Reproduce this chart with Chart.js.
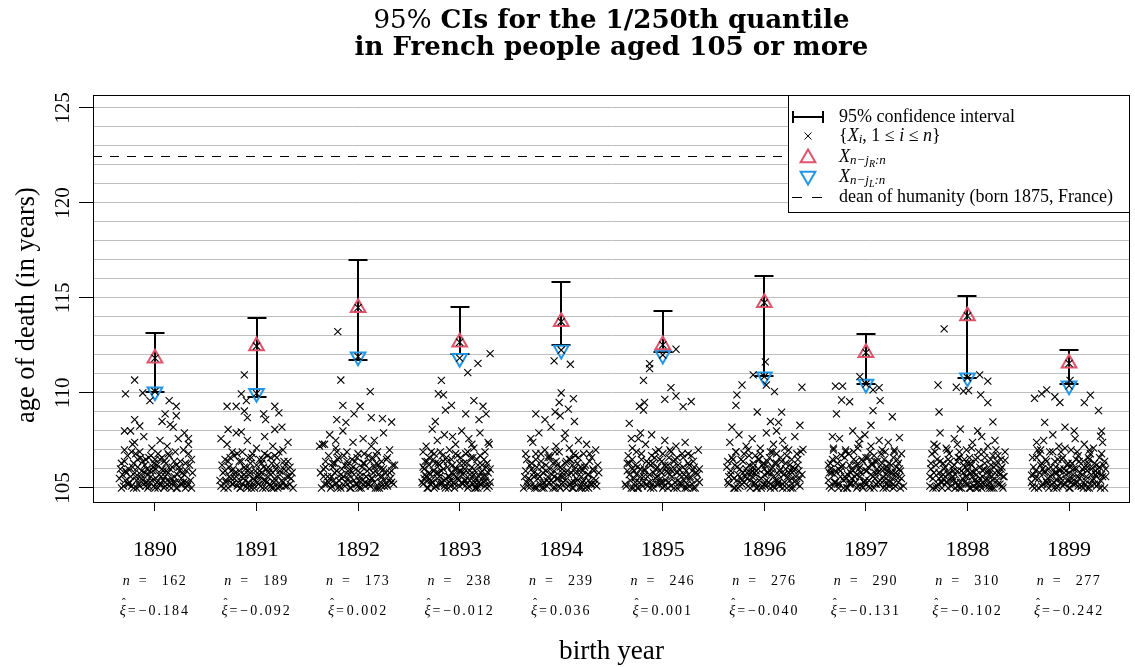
<!DOCTYPE html>
<html>
<head>
<meta charset="utf-8">
<title>95% CIs for the 1/250th quantile</title>
<script src="https://cdn.jsdelivr.net/npm/chart.js@4.4.0/dist/chart.umd.min.js"></script>
<style>
  html, body { margin: 0; padding: 0; background: #fff; }
  #wrap { width: 1135px; height: 667px; }
</style>
</head>
<body>
<div id="wrap"><canvas id="ciChart" width="1135" height="667"></canvas></div>
<script>
// ---- data ----
const years = [1890, 1891, 1892, 1893, 1894, 1895, 1896, 1897, 1898, 1899];
const sampleSizes = [162, 189, 173, 238, 239, 246, 276, 290, 310, 277];
const xiHat = [-0.184, -0.092, 0.002, -0.012, 0.036, 0.001, -0.040, -0.131, -0.102, -0.242];

const ciHigh = [113.14, 113.96, 117.0, 114.54, 115.86, 114.32, 116.18, 113.09, 115.12, 112.26];
const ciLow = [110.04, 109.81, 111.74, 112.05, 112.53, 112.18, 110.91, 110.47, 110.77, 110.47];
const upperStat = [111.83, 112.47, 114.49, 112.67, 113.75, 112.53, 114.75, 112.12, 114.05, 111.56];
const lowerStat = [110.07, 109.98, 111.91, 111.83, 112.26, 112.0, 110.86, 110.47, 110.8, 110.38];

const deanAge = 122.45;
const ageTickLabels = [105, 110, 115, 120, 125];

// jittered ages at death, [offset from birth year, age]
const pts1890 = [[-0.35,105.5],[-0.33,106.3],[-0.31,105.1],[-0.3,107.0],[-0.28,105.8],[-0.27,106.7],[-0.25,105.3],[-0.24,108.0],[-0.22,106.1],[-0.21,105.0],[-0.2,107.4],[-0.19,105.6],[-0.17,106.5],[-0.16,105.2],[-0.15,106.9],[-0.13,105.9],[-0.12,105.4],[-0.11,107.7],[-0.1,106.2],[-0.09,105.1],[-0.07,105.7],[-0.06,106.6],[-0.05,105.3],[-0.03,107.1],[-0.02,105.9],[-0.01,106.3],[0.0,105.0],[0.01,105.5],[0.03,106.8],[0.04,105.2],[0.05,107.5],[0.07,106.0],[0.08,105.4],[0.09,106.4],[0.1,105.1],[0.12,107.2],[0.13,105.8],[0.14,106.7],[0.15,105.3],[0.17,106.1],[0.18,108.2],[0.19,105.6],[0.2,106.9],[0.22,105.0],[0.23,107.6],[0.24,105.9],[0.25,106.4],[0.27,105.2],[0.28,107.0],[0.29,105.7],[0.3,106.3],[0.32,105.1],[0.33,106.8],[0.35,105.4],[0.37,105.8],[-0.34,106.0],[-0.29,105.4],[-0.23,106.9],[-0.18,105.0],[-0.14,105.7],[-0.08,106.0],[-0.04,105.6],[0.02,106.2],[0.06,105.6],[0.11,105.9],[0.16,105.0],[0.21,106.2],[0.26,105.5],[0.31,105.3],[0.36,106.5],[-0.26,105.2],[-0.12,106.4],[0.0,106.5],[0.1,105.6],[0.2,105.3],
  [-0.2,110.68],[-0.29,109.95],[-0.12,110.0],[-0.05,109.6],[0.14,109.6],[0.21,109.3],[0.1,108.9],[0.21,108.8],[-0.2,108.6],[-0.15,108.26],[0.07,108.5],[0.15,108.35],[-0.3,108.0],[0.29,107.9],[0.33,107.6],[0.33,107.3],[-0.22,107.3]];
const dense1890 = [[-0.33,105.0],[-0.32,105.7],[-0.3,106.4],[-0.29,105.9],[-0.27,105.2],[-0.26,106.0],[-0.24,105.6],[-0.23,105.1],[-0.21,106.3],[-0.2,105.8],[-0.18,105.4],[-0.17,106.1],[-0.15,105.1],[-0.14,106.6],[-0.13,105.5],[-0.11,105.2],[-0.1,105.8],[-0.09,106.5],[-0.08,105.3],[-0.06,105.1],[-0.05,105.9],[-0.03,105.4],[-0.02,106.1],[-0.01,105.1],[0.01,106.0],[0.02,105.3],[0.04,105.7],[0.05,106.5],[0.06,105.2],[0.08,105.9],[0.09,105.0],[0.11,106.3],[0.12,105.4],[0.14,105.1],[0.15,106.0],[0.16,105.5],[0.18,105.3],[0.19,106.4],[0.21,105.0],[0.22,105.7],[0.24,106.1],[0.25,105.2],[0.27,105.8],[0.28,105.3],[0.3,105.0],[0.31,105.9],[0.33,105.2],[0.34,106.2],[0.36,105.0],[0.03,105.0],[-0.07,105.0],[0.13,106.8],[-0.19,106.8],[0.07,106.6],[-0.04,106.7]];

const pts1891 = [[-0.36,105.4],[-0.34,106.2],[-0.32,105.0],[-0.31,105.9],[-0.29,107.3],[-0.27,105.6],[-0.26,106.6],[-0.24,105.2],[-0.23,106.0],[-0.21,105.8],[-0.2,107.9],[-0.18,105.3],[-0.17,106.4],[-0.16,105.0],[-0.14,106.9],[-0.13,105.5],[-0.12,106.1],[-0.1,105.1],[-0.09,107.5],[-0.08,105.7],[-0.06,106.3],[-0.05,105.0],[-0.04,106.8],[-0.02,105.4],[-0.01,105.9],[0.0,107.1],[0.02,105.2],[0.03,106.5],[0.04,105.6],[0.06,105.0],[0.07,106.1],[0.08,107.7],[0.1,105.3],[0.11,106.7],[0.12,105.8],[0.14,105.1],[0.15,106.3],[0.16,107.2],[0.18,105.5],[0.19,106.0],[0.21,105.0],[0.22,106.9],[0.23,105.7],[0.25,108.2],[0.26,105.3],[0.27,106.4],[0.29,105.9],[0.3,105.1],[0.31,107.4],[0.33,106.1],[0.34,105.5],[0.36,105.0],[-0.35,107.6],[-0.3,105.3],[-0.25,105.9],[-0.19,106.8],[-0.15,105.6],[-0.11,105.4],[-0.07,106.0],[-0.03,105.2],[0.01,105.6],[0.05,106.3],[0.09,105.4],[0.13,106.0],[0.17,105.3],[0.2,106.6],[0.24,105.1],[0.28,106.2],[0.32,105.6],[-0.22,105.5],[-0.08,106.6],[0.05,105.8],[0.15,105.0],[0.26,107.0],[-0.28,106.4],
  [-0.12,110.95],[-0.15,109.95],[-0.1,109.6],[-0.29,109.3],[-0.2,109.3],[-0.12,109.05],[-0.09,108.7],[0.07,108.9],[0.18,109.3],[0.22,108.95],[0.09,108.6],[0.18,108.08],[-0.28,108.08],[-0.15,107.95]];
const dense1891 = [[-0.35,105.1],[-0.33,105.8],[-0.31,106.5],[-0.3,105.4],[-0.28,105.0],[-0.27,106.1],[-0.25,105.5],[-0.23,105.2],[-0.22,106.7],[-0.2,105.6],[-0.19,105.1],[-0.17,105.9],[-0.15,106.4],[-0.14,105.2],[-0.12,105.7],[-0.11,106.0],[-0.09,105.0],[-0.08,105.3],[-0.06,105.8],[-0.05,106.6],[-0.03,105.5],[-0.02,105.0],[0.0,106.2],[0.01,105.3],[0.03,105.9],[0.04,105.1],[0.06,106.5],[0.07,105.4],[0.09,105.0],[0.1,106.0],[0.11,105.6],[0.13,105.2],[0.14,106.6],[0.16,105.8],[0.17,105.0],[0.19,105.4],[0.2,106.2],[0.22,105.1],[0.23,105.9],[0.25,105.4],[0.27,106.0],[0.28,105.1],[0.3,105.6],[0.31,106.4],[0.33,105.2],[0.35,105.8],[-0.24,106.9],[0.08,106.8],[-0.07,105.1],[0.18,106.7],[0.02,105.7],[-0.16,105.0]];

const pts1892 = [[-0.37,105.8],[-0.35,107.3],[-0.33,105.2],[-0.32,106.4],[-0.3,105.6],[-0.28,107.8],[-0.27,105.0],[-0.25,106.1],[-0.24,105.4],[-0.22,107.1],[-0.21,105.9],[-0.19,106.6],[-0.18,105.1],[-0.16,105.5],[-0.15,108.0],[-0.13,106.2],[-0.12,105.3],[-0.11,106.9],[-0.09,105.7],[-0.08,105.0],[-0.06,106.5],[-0.05,107.4],[-0.04,105.4],[-0.02,106.0],[-0.01,105.2],[0.0,106.8],[0.02,105.6],[0.03,105.0],[0.05,107.6],[0.06,106.3],[0.07,105.3],[0.09,105.9],[0.1,106.7],[0.12,105.1],[0.13,107.2],[0.14,105.5],[0.16,106.1],[0.17,105.0],[0.19,106.9],[0.2,105.7],[0.22,105.3],[0.23,106.4],[0.25,107.9],[0.26,105.1],[0.27,105.8],[0.29,106.6],[0.3,105.4],[0.31,107.0],[0.33,105.9],[0.35,105.2],[0.36,106.2],[-0.34,106.0],[-0.29,105.3],[-0.23,106.3],[-0.17,105.7],[-0.14,106.7],[-0.1,105.5],[-0.07,105.9],[-0.03,106.4],[0.01,105.4],[0.04,106.1],[0.08,105.6],[0.11,105.2],[0.15,105.8],[0.18,106.3],[0.21,105.0],[0.24,105.6],[0.28,105.2],[0.32,105.5],[-0.2,105.0],[-0.1,106.2],[0.0,105.1],[0.12,106.4],[0.22,106.0],[-0.26,105.6],
  [-0.2,113.23],[-0.17,110.68],[0.12,110.07],[-0.15,109.35],[0.02,109.3],[-0.04,108.9],[-0.21,108.6],[0.13,108.7],[0.24,108.65],[0.33,108.47],[-0.12,108.45],[-0.33,107.3],[-0.38,107.2],[-0.22,107.5],[0.16,107.5]];
const dense1892 = [[-0.36,105.0],[-0.34,105.6],[-0.32,106.1],[-0.31,105.2],[-0.29,106.7],[-0.28,105.5],[-0.26,105.1],[-0.25,106.3],[-0.23,105.8],[-0.22,105.2],[-0.2,106.5],[-0.19,105.4],[-0.17,105.0],[-0.16,106.0],[-0.14,105.6],[-0.13,105.1],[-0.11,106.4],[-0.1,105.9],[-0.08,105.3],[-0.07,105.0],[-0.05,106.1],[-0.04,105.7],[-0.02,105.2],[-0.01,106.6],[0.01,105.0],[0.02,105.8],[0.04,105.4],[0.05,106.3],[0.07,105.1],[0.08,105.6],[0.1,105.2],[0.11,106.0],[0.13,105.5],[0.14,106.6],[0.16,105.3],[0.17,105.9],[0.19,105.0],[0.2,106.2],[0.22,105.6],[0.23,105.1],[0.25,106.0],[0.26,105.4],[0.28,106.5],[0.29,105.1],[0.31,105.8],[0.33,105.3],[0.34,106.2],[-0.21,106.9],[0.06,106.8],[0.18,106.7]];

const pts1893 = [[-0.37,105.3],[-0.36,106.1],[-0.34,105.7],[-0.33,107.2],[-0.31,105.0],[-0.3,106.6],[-0.28,105.4],[-0.27,108.1],[-0.26,105.9],[-0.24,106.3],[-0.23,105.1],[-0.22,107.5],[-0.2,105.6],[-0.19,106.9],[-0.18,105.2],[-0.16,106.0],[-0.15,107.8],[-0.14,105.5],[-0.12,106.4],[-0.11,105.0],[-0.1,107.0],[-0.08,105.8],[-0.07,106.2],[-0.06,105.3],[-0.04,107.3],[-0.03,105.6],[-0.02,106.7],[0.0,105.1],[0.01,105.9],[0.02,108.0],[0.04,106.3],[0.05,105.4],[0.06,106.8],[0.08,105.0],[0.09,107.6],[0.1,105.7],[0.12,106.1],[0.13,105.2],[0.14,107.1],[0.16,105.5],[0.17,106.5],[0.18,105.0],[0.2,107.9],[0.21,105.8],[0.22,106.2],[0.24,105.3],[0.25,106.9],[0.26,105.6],[0.28,107.4],[0.29,105.1],[0.3,106.0],[-0.35,105.5],[-0.32,106.4],[-0.29,105.2],[-0.25,106.8],[-0.21,105.8],[-0.17,105.3],[-0.13,106.6],[-0.09,105.4],[-0.05,106.0],[-0.01,105.4],[0.03,105.7],[0.07,105.2],[0.11,106.6],[0.15,105.9],[0.19,105.3],[0.23,105.6],[0.27,106.3],[-0.3,105.8],[-0.2,106.2],[-0.1,105.6],[0.0,106.3],[0.1,105.4],[0.2,105.2],[-0.25,105.0],[-0.15,105.1],[-0.05,105.0],[0.05,106.0],[0.15,105.0],[0.25,105.1],[-0.36,106.9],[0.12,107.3],[-0.07,107.7],
  [-0.18,110.66],[-0.21,109.96],[-0.16,109.9],[-0.08,109.35],[-0.14,109.1],[0.14,109.6],[0.23,109.3],[0.26,108.9],[0.19,108.6],[0.06,108.9],[-0.24,108.5],[0.29,107.3],[0.18,111.56],[0.08,111.07],[0.3,112.07]];
const dense1893 = [[-0.36,105.2],[-0.35,106.0],[-0.33,105.6],[-0.32,105.0],[-0.3,106.2],[-0.29,105.7],[-0.27,105.3],[-0.26,106.5],[-0.24,105.1],[-0.23,105.8],[-0.21,106.3],[-0.2,105.2],[-0.18,105.9],[-0.17,106.7],[-0.15,105.4],[-0.14,105.0],[-0.12,106.1],[-0.11,105.6],[-0.09,105.1],[-0.08,106.5],[-0.06,105.7],[-0.05,105.2],[-0.03,106.0],[-0.02,105.5],[0.0,105.9],[0.01,106.6],[0.03,105.2],[0.04,105.8],[0.06,105.4],[0.07,106.3],[0.09,105.1],[0.1,105.9],[0.12,105.6],[0.13,106.6],[0.15,105.3],[0.16,105.0],[0.18,106.2],[0.19,105.6],[0.21,105.2],[0.22,105.9],[0.24,106.5],[0.25,105.4],[0.27,105.0],[0.28,105.8],[0.3,105.3],[-0.34,106.4],[-0.28,106.9],[-0.16,106.4],[-0.04,106.8],[0.08,106.9],[0.2,106.7],[-0.22,105.5],[-0.1,105.3],[0.02,105.3],[0.14,105.7],[0.26,106.1],[-0.31,105.4],[0.17,105.2]];

const pts1894 = [[-0.36,105.6],[-0.35,106.8],[-0.33,105.1],[-0.31,106.2],[-0.3,105.4],[-0.28,107.4],[-0.27,105.8],[-0.25,106.5],[-0.24,105.0],[-0.22,107.9],[-0.21,105.6],[-0.19,106.1],[-0.18,105.2],[-0.16,107.0],[-0.15,105.9],[-0.13,106.6],[-0.12,105.3],[-0.1,108.2],[-0.09,105.7],[-0.08,106.3],[-0.06,105.0],[-0.05,107.2],[-0.03,105.5],[-0.02,106.9],[0.0,105.2],[0.01,106.0],[0.03,107.6],[0.04,105.4],[0.05,106.4],[0.07,105.1],[0.08,107.1],[0.1,105.8],[0.11,106.2],[0.12,105.0],[0.14,106.7],[0.15,105.5],[0.17,107.5],[0.18,105.9],[0.19,106.1],[0.21,105.3],[0.22,106.8],[0.24,105.0],[0.25,107.3],[0.26,105.7],[0.28,106.4],[0.29,105.2],[0.31,106.0],[0.32,105.5],[0.34,107.0],[0.35,105.1],[0.37,105.8],[-0.34,105.3],[-0.29,106.0],[-0.23,105.5],[-0.2,106.8],[-0.14,105.4],[-0.11,106.0],[-0.07,105.6],[-0.04,106.2],[0.02,105.6],[0.06,105.9],[0.09,106.5],[0.13,105.3],[0.16,106.3],[0.2,105.6],[0.23,106.1],[0.27,105.4],[0.3,106.6],[0.33,105.2],[-0.26,105.1],[-0.17,105.0],[-0.01,105.0],[0.09,105.2],[0.2,105.0],[-0.12,106.7],[0.04,107.9],[-0.3,107.6],[0.27,105.0],[-0.08,105.3],
  [-0.07,111.69],[0.09,111.51],[0.0,110.0],[-0.02,109.5],[0.12,109.7],[0.07,109.15],[-0.06,109.0],[-0.25,108.9],[-0.16,108.6],[0.13,108.5],[-0.01,108.8]];
const dense1894 = [[-0.37,105.0],[-0.35,105.9],[-0.34,106.5],[-0.32,105.5],[-0.3,105.1],[-0.29,106.3],[-0.27,105.6],[-0.26,105.0],[-0.24,106.1],[-0.23,105.7],[-0.21,105.2],[-0.2,106.4],[-0.18,105.8],[-0.17,105.3],[-0.15,106.2],[-0.14,105.1],[-0.13,105.6],[-0.11,106.6],[-0.1,105.4],[-0.08,105.0],[-0.07,105.9],[-0.05,106.4],[-0.04,105.5],[-0.02,105.1],[-0.01,106.1],[0.01,105.8],[0.02,105.3],[0.04,106.3],[0.05,105.0],[0.07,105.7],[0.08,106.5],[0.1,105.3],[0.11,105.0],[0.13,106.0],[0.14,105.8],[0.16,105.4],[0.17,106.6],[0.19,105.1],[0.21,105.9],[0.22,105.4],[0.24,106.2],[0.25,105.1],[0.27,105.7],[0.28,106.8],[0.3,105.2],[0.32,105.9],[0.34,105.4],[0.36,106.2],[-0.25,106.8],[-0.06,106.9],[0.12,106.8],[-0.19,105.0],[0.0,105.6],[0.18,105.0]];

const pts1895 = [[-0.37,105.2],[-0.35,105.9],[-0.34,106.7],[-0.32,105.4],[-0.3,107.1],[-0.29,105.0],[-0.27,106.2],[-0.26,105.7],[-0.24,107.6],[-0.23,105.3],[-0.21,106.5],[-0.2,105.1],[-0.18,106.0],[-0.17,107.3],[-0.15,105.6],[-0.14,106.3],[-0.12,105.0],[-0.11,107.8],[-0.09,105.8],[-0.08,106.6],[-0.06,105.2],[-0.05,106.1],[-0.04,107.0],[-0.02,105.5],[-0.01,106.4],[0.01,105.1],[0.02,107.5],[0.04,105.9],[0.05,106.2],[0.06,105.3],[0.08,106.9],[0.09,105.6],[0.11,105.0],[0.12,106.5],[0.13,107.2],[0.15,105.4],[0.16,106.0],[0.18,105.1],[0.19,106.8],[0.21,105.7],[0.22,107.4],[0.24,105.2],[0.25,106.3],[0.27,105.5],[0.28,106.7],[0.3,105.0],[0.31,106.1],[0.33,105.8],[0.35,107.0],[0.36,105.3],[-0.33,106.3],[-0.28,105.5],[-0.22,106.0],[-0.19,105.6],[-0.13,105.3],[-0.1,106.3],[-0.07,105.5],[-0.03,105.9],[0.0,105.3],[0.03,106.1],[0.07,105.7],[0.1,106.1],[0.14,105.8],[0.17,105.3],[0.2,106.1],[0.23,105.6],[0.26,105.1],[0.29,105.9],[0.34,105.4],[-0.25,105.0],[-0.16,105.2],[-0.07,106.9],[0.05,105.0],[0.14,106.6],[0.22,105.0],[-0.3,106.0],[0.0,106.8],
  [-0.19,110.66],[-0.13,111.54],[-0.13,111.28],[0.13,112.3],[0.08,110.28],[0.02,109.66],[0.13,109.84],[-0.18,109.5],[-0.23,109.3],[0.2,109.28],[0.28,109.55],[-0.33,108.4],[-0.31,107.6],[-0.22,107.9],[-0.19,109.1]];
const dense1895 = [[-0.36,105.1],[-0.35,106.3],[-0.33,105.7],[-0.31,105.0],[-0.3,106.5],[-0.28,105.9],[-0.27,105.3],[-0.25,106.1],[-0.24,105.0],[-0.22,105.6],[-0.21,106.8],[-0.19,105.3],[-0.18,105.9],[-0.16,106.4],[-0.15,105.1],[-0.13,105.7],[-0.12,106.2],[-0.1,105.2],[-0.09,105.0],[-0.07,106.0],[-0.06,105.6],[-0.04,105.2],[-0.03,106.5],[-0.01,105.8],[0.0,105.0],[0.02,106.2],[0.03,105.4],[0.05,105.8],[0.06,106.6],[0.08,105.1],[0.09,105.9],[0.11,106.4],[0.12,105.3],[0.14,105.0],[0.15,106.2],[0.17,105.7],[0.18,105.2],[0.2,106.6],[0.21,105.4],[0.23,105.9],[0.24,105.0],[0.26,106.2],[0.27,105.6],[0.29,105.2],[0.3,106.4],[0.32,105.0],[0.34,105.7],[0.36,106.0],[-0.26,106.9],[0.07,107.0],[-0.11,106.7],[0.25,106.8],[-0.02,105.3]];

const pts1896 = [[-0.37,106.1],[-0.36,105.3],[-0.34,107.4],[-0.33,105.7],[-0.31,106.5],[-0.3,105.0],[-0.28,106.9],[-0.27,105.4],[-0.25,107.8],[-0.24,106.0],[-0.22,105.2],[-0.21,106.4],[-0.19,105.6],[-0.18,107.2],[-0.16,105.1],[-0.15,106.2],[-0.13,105.8],[-0.12,107.6],[-0.1,105.3],[-0.09,106.7],[-0.07,105.0],[-0.06,106.0],[-0.04,107.1],[-0.03,105.5],[-0.01,106.3],[0.0,105.2],[0.02,107.9],[0.03,105.8],[0.05,106.6],[0.06,105.0],[0.08,106.1],[0.09,107.3],[0.11,105.4],[0.12,106.8],[0.14,105.7],[0.15,105.1],[0.17,106.4],[0.18,107.5],[0.2,105.3],[0.21,106.0],[0.23,105.6],[0.24,107.0],[0.26,105.0],[0.27,106.5],[0.29,105.9],[0.3,107.7],[0.32,105.2],[0.33,106.2],[0.35,105.5],[0.36,106.9],[-0.35,105.6],[-0.29,106.2],[-0.23,105.5],[-0.2,106.8],[-0.14,105.4],[-0.11,106.1],[-0.08,105.7],[-0.05,106.5],[-0.02,105.1],[0.01,106.2],[0.04,105.3],[0.07,105.8],[0.1,106.3],[0.13,105.2],[0.16,106.0],[0.19,105.7],[0.22,106.7],[0.25,105.4],[0.28,106.1],[0.31,105.4],[0.34,105.9],[-0.26,105.0],[-0.17,105.8],[-0.08,105.0],[0.0,106.0],[0.09,105.1],[0.18,105.0],[0.27,105.2],[-0.32,108.2],[0.12,108.0],[-0.12,105.9],[0.06,106.9],
  [0.01,111.64],[0.02,110.42],[-0.11,110.95],[0.1,110.07],[0.37,110.3],[-0.22,110.42],[-0.27,109.9],[-0.28,109.35],[0.17,108.99],[-0.07,109.0],[0.35,108.3],[0.38,107.03],[0.06,108.5],[0.14,108.45]];
const dense1896 = [[-0.36,106.4],[-0.35,105.2],[-0.33,105.9],[-0.32,106.6],[-0.3,105.5],[-0.29,105.0],[-0.27,106.1],[-0.26,105.7],[-0.24,105.1],[-0.23,106.5],[-0.21,105.8],[-0.2,105.3],[-0.18,106.0],[-0.17,105.5],[-0.15,106.7],[-0.14,105.0],[-0.12,105.6],[-0.11,106.3],[-0.09,105.2],[-0.08,105.9],[-0.06,106.5],[-0.05,105.4],[-0.03,105.0],[-0.02,106.2],[0.0,105.7],[0.01,105.1],[0.03,106.4],[0.04,105.8],[0.06,105.2],[0.07,106.0],[0.09,105.6],[0.1,105.0],[0.12,106.3],[0.13,105.4],[0.15,105.9],[0.16,106.6],[0.18,105.2],[0.19,105.7],[0.21,106.3],[0.22,105.0],[0.24,105.8],[0.25,106.2],[0.27,105.5],[0.28,105.0],[0.3,106.0],[0.31,105.6],[0.33,106.5],[0.35,105.1],[0.37,105.7],[-0.28,106.9],[-0.16,107.0],[-0.04,106.8],[0.08,106.9],[0.2,107.1],[0.32,106.8],[-0.22,105.4],[-0.1,105.8],[0.02,105.4],[0.14,105.3],[0.26,105.9]];

const pts1897 = [[-0.37,105.4],[-0.35,106.3],[-0.34,105.0],[-0.32,107.1],[-0.31,105.7],[-0.29,106.6],[-0.28,105.2],[-0.26,107.6],[-0.25,105.9],[-0.23,106.2],[-0.22,105.0],[-0.2,107.0],[-0.19,105.5],[-0.17,106.8],[-0.16,105.2],[-0.14,106.0],[-0.13,108.0],[-0.11,105.6],[-0.1,106.4],[-0.08,105.1],[-0.07,107.3],[-0.05,105.8],[-0.04,106.5],[-0.02,105.3],[-0.01,107.8],[0.01,105.9],[0.02,106.1],[0.04,105.0],[0.05,107.2],[0.07,105.6],[0.08,106.7],[0.1,105.2],[0.11,106.0],[0.13,107.5],[0.14,105.4],[0.16,106.3],[0.17,105.0],[0.19,106.9],[0.2,105.7],[0.22,107.4],[0.23,105.1],[0.25,106.2],[0.26,105.5],[0.28,107.0],[0.29,105.8],[0.31,106.5],[0.32,105.3],[0.34,105.9],[0.35,106.8],[0.37,105.1],[-0.36,105.8],[-0.3,105.3],[-0.24,106.7],[-0.21,105.6],[-0.15,105.3],[-0.12,106.9],[-0.09,105.7],[-0.06,106.1],[-0.03,105.0],[0.0,106.6],[0.03,105.4],[0.06,106.3],[0.09,105.8],[0.12,105.3],[0.15,106.8],[0.18,105.4],[0.21,106.1],[0.24,105.8],[0.27,105.2],[0.3,106.1],[0.33,105.6],[-0.27,106.0],[-0.18,105.0],[-0.09,106.2],[0.0,105.2],[0.09,106.4],[0.18,106.0],[0.27,105.0],[-0.33,107.7],[0.05,108.3],[-0.06,107.6],[0.2,105.2],[-0.15,105.8],
  [-0.3,110.36],[-0.23,110.36],[-0.06,110.86],[0.13,110.28],[0.07,110.16],[-0.24,109.63],[-0.16,109.54],[0.14,109.6],[-0.29,108.9],[0.07,109.07],[0.26,108.75],[0.33,107.65],[-0.35,106.0]];
const dense1897 = [[-0.37,106.2],[-0.36,105.1],[-0.34,105.8],[-0.33,106.5],[-0.31,105.3],[-0.3,105.9],[-0.28,106.3],[-0.27,105.0],[-0.25,105.6],[-0.24,106.1],[-0.22,105.4],[-0.21,106.6],[-0.19,105.0],[-0.18,105.7],[-0.16,106.2],[-0.15,105.2],[-0.13,105.9],[-0.12,106.5],[-0.1,105.3],[-0.09,105.0],[-0.07,106.0],[-0.06,105.6],[-0.04,105.1],[-0.03,106.4],[-0.01,105.4],[0.0,105.9],[0.02,106.6],[0.03,105.1],[0.05,105.7],[0.06,106.2],[0.08,105.0],[0.09,105.5],[0.11,106.4],[0.12,105.8],[0.14,105.2],[0.15,106.0],[0.17,105.6],[0.18,106.5],[0.2,105.0],[0.21,105.9],[0.23,106.3],[0.24,105.3],[0.26,105.8],[0.27,106.6],[0.29,105.1],[0.3,105.6],[0.32,106.3],[0.34,105.0],[0.35,105.5],[-0.32,107.0],[-0.2,106.9],[-0.08,107.1],[0.04,106.9],[0.16,107.0],[0.28,106.9],[-0.26,105.2],[-0.14,105.5],[-0.02,105.3],[0.1,105.2],[0.22,105.4],[0.33,106.0]];

const pts1898 = [[-0.37,105.1],[-0.36,106.0],[-0.34,105.5],[-0.33,107.3],[-0.31,105.0],[-0.3,106.5],[-0.28,105.8],[-0.27,107.9],[-0.25,105.3],[-0.24,106.3],[-0.22,105.6],[-0.21,107.1],[-0.19,105.0],[-0.18,106.8],[-0.16,105.4],[-0.15,106.1],[-0.13,107.6],[-0.12,105.7],[-0.1,106.4],[-0.09,105.1],[-0.07,108.1],[-0.06,105.9],[-0.04,106.2],[-0.03,105.3],[-0.01,107.0],[0.0,105.6],[0.02,106.6],[0.03,105.0],[0.05,107.4],[0.06,105.8],[0.08,106.0],[0.09,105.2],[0.11,106.9],[0.12,105.5],[0.14,107.7],[0.15,105.9],[0.17,106.3],[0.18,105.1],[0.2,107.2],[0.21,105.7],[0.23,106.5],[0.24,105.0],[0.26,106.1],[0.27,107.5],[0.29,105.4],[0.3,106.7],[0.32,105.2],[0.33,106.0],[0.35,105.6],[0.37,106.9],[-0.35,106.8],[-0.29,105.2],[-0.23,106.0],[-0.2,105.3],[-0.14,105.9],[-0.11,105.3],[-0.08,106.6],[-0.05,105.5],[-0.02,106.1],[0.01,105.2],[0.04,106.2],[0.07,105.4],[0.1,106.6],[0.13,105.2],[0.16,106.0],[0.19,105.5],[0.22,105.9],[0.25,105.4],[0.28,106.2],[0.31,105.8],[0.34,105.1],[-0.26,105.6],[-0.17,106.4],[-0.08,105.0],[0.0,106.3],[0.08,105.0],[0.16,105.2],[0.25,106.7],[-0.3,107.2],[0.1,108.0],[-0.1,107.3],[0.22,105.0],[-0.19,105.7],[0.03,105.8],
  [-0.23,113.37],[-0.29,110.42],[0.12,110.95],[0.2,110.62],[-0.04,110.1],[0.01,110.13],[0.13,109.9],[0.2,109.49],[-0.11,110.3],[-0.28,109.0],[0.25,108.48],[0.37,106.46]];
const dense1898 = [[-0.37,105.6],[-0.36,106.3],[-0.34,105.0],[-0.33,105.8],[-0.31,106.2],[-0.3,105.1],[-0.28,105.5],[-0.27,106.4],[-0.25,105.0],[-0.24,105.7],[-0.22,106.1],[-0.21,105.3],[-0.19,106.5],[-0.18,105.8],[-0.16,105.1],[-0.15,105.6],[-0.13,106.2],[-0.12,105.0],[-0.1,105.9],[-0.09,106.6],[-0.07,105.3],[-0.06,105.0],[-0.04,105.8],[-0.03,106.5],[-0.01,105.2],[0.0,105.9],[0.02,105.0],[0.03,106.3],[0.05,105.6],[0.06,105.1],[0.08,106.5],[0.09,105.7],[0.11,105.3],[0.12,106.1],[0.14,105.0],[0.15,105.6],[0.17,106.6],[0.18,105.4],[0.2,105.9],[0.21,105.1],[0.23,106.2],[0.24,105.6],[0.26,105.0],[0.27,105.8],[0.29,106.4],[0.3,105.2],[0.32,105.7],[0.33,106.5],[0.35,105.0],[0.36,105.6],[-0.32,106.9],[-0.2,107.0],[-0.08,106.9],[0.04,107.1],[0.16,106.9],[0.28,107.0],[-0.26,105.3],[-0.14,105.4],[-0.02,105.6],[0.1,105.0],[0.22,105.3],[0.34,106.1],[0.07,105.4]];

const pts1899 = [[-0.37,105.3],[-0.36,106.6],[-0.34,105.0],[-0.33,105.9],[-0.31,107.0],[-0.3,105.5],[-0.28,106.2],[-0.27,105.1],[-0.25,107.5],[-0.24,105.8],[-0.22,106.4],[-0.21,105.2],[-0.19,106.9],[-0.18,105.6],[-0.16,107.8],[-0.15,105.0],[-0.13,106.1],[-0.12,105.4],[-0.1,107.2],[-0.09,105.9],[-0.07,106.5],[-0.06,105.1],[-0.04,108.2],[-0.03,105.7],[-0.01,106.3],[0.0,105.0],[0.02,107.0],[0.03,105.5],[0.05,106.0],[0.06,107.6],[0.08,105.3],[0.09,106.7],[0.11,105.8],[0.12,105.1],[0.14,106.4],[0.15,107.3],[0.17,105.6],[0.18,106.1],[0.2,105.0],[0.21,106.8],[0.23,105.4],[0.24,107.1],[0.26,105.9],[0.27,106.2],[0.29,105.2],[0.3,106.6],[0.32,105.7],[0.33,107.4],[0.35,105.0],[0.36,106.0],[-0.35,105.7],[-0.29,106.8],[-0.23,105.4],[-0.2,106.0],[-0.14,105.8],[-0.11,106.5],[-0.08,105.3],[-0.05,106.0],[-0.02,105.4],[0.01,106.1],[0.04,105.2],[0.07,106.5],[0.1,105.5],[0.13,106.0],[0.16,105.2],[0.19,106.3],[0.22,105.7],[0.25,105.2],[0.28,106.0],[0.31,105.4],[0.34,106.2],[-0.26,106.0],[-0.17,105.2],[-0.08,106.9],[0.0,105.8],[0.09,105.1],[0.18,105.0],[0.27,105.6],[-0.32,107.4],[0.05,108.0],[-0.12,105.0],[0.2,106.5],
  [-0.34,109.72],[-0.27,109.95],[-0.22,110.16],[-0.14,109.8],[0.01,110.66],[0.21,109.89],[0.15,109.49],[0.29,109.07],[-0.09,109.5],[-0.24,108.45],[0.31,107.73],[0.32,107.99],[-0.37,105.68],[0.36,105.6]];
const dense1899 = [[-0.36,105.1],[-0.35,106.1],[-0.33,105.5],[-0.32,106.6],[-0.3,105.0],[-0.29,105.8],[-0.27,106.3],[-0.26,105.2],[-0.24,105.9],[-0.23,106.5],[-0.21,105.5],[-0.2,105.0],[-0.18,106.1],[-0.17,105.7],[-0.15,105.3],[-0.14,106.4],[-0.12,105.8],[-0.11,105.1],[-0.09,106.0],[-0.08,105.5],[-0.06,106.6],[-0.05,105.2],[-0.03,105.9],[-0.02,106.2],[0.0,105.4],[0.01,105.0],[0.03,106.3],[0.04,105.7],[0.06,105.2],[0.07,106.0],[0.09,105.6],[0.1,106.4],[0.12,105.1],[0.13,105.7],[0.15,106.1],[0.16,105.4],[0.18,105.9],[0.19,106.6],[0.21,105.2],[0.22,106.0],[0.24,105.5],[0.25,106.3],[0.27,105.1],[0.28,105.8],[0.3,106.1],[0.31,105.0],[0.33,105.6],[0.35,106.4],[-0.28,107.0],[-0.16,106.9],[-0.04,107.1],[0.08,106.9],[0.2,107.0],[0.32,106.8],[-0.22,105.3],[-0.1,105.6],[0.02,105.3],[0.14,105.0],[0.26,105.7]];

const jitterByYear = [
    pts1890.concat(dense1890), pts1891.concat(dense1891), pts1892.concat(dense1892),
    pts1893.concat(dense1893), pts1894.concat(dense1894), pts1895.concat(dense1895),
    pts1896.concat(dense1896), pts1897.concat(dense1897), pts1898.concat(dense1898),
    pts1899.concat(dense1899)
];

// ---- build datasets ----
const scatterData = [];
years.forEach((yr, i) => {
    jitterByYear[i].forEach(p => scatterData.push({ x: yr + p[0], y: p[1] }));
    scatterData.push({ x: yr, y: upperStat[i] });
    scatterData.push({ x: yr, y: lowerStat[i] });
});

const gridAges = [];
for (let a = 105; a <= 125; a++) gridAges.push(a);

const RED = '#DF536B';
const BLUE = '#2297E6';
const SERIF = "'Liberation Serif', 'Times New Roman', serif";
const BOLDSERIF = "'DejaVu Serif', serif";

function fitSize(ctx, text, style, family, target) {
    ctx.font = style + ' 20px ' + family;
    return 20 * target / ctx.measureText(text).width;
}

function fmtXi(v) {
    return (v < 0 ? '\u2212' : '') + Math.abs(v).toFixed(3);
}

function drawRuns(ctx, runs, x, y) {
    let cx = x;
    runs.forEach(r => {
        ctx.font = r[1];
        ctx.fillText(r[0], cx, y + (r[2] || 0));
        cx += ctx.measureText(r[0]).width;
    });
}

function triangle(ctx, x, y, r, down) {
    const s = down ? -1 : 1;
    ctx.beginPath();
    ctx.moveTo(x, y - s * r);
    ctx.lineTo(x + r * 0.866, y + s * r * 0.5);
    ctx.lineTo(x - r * 0.866, y + s * r * 0.5);
    ctx.closePath();
    ctx.stroke();
}

const decorPlugin = {
    id: 'decor',
    beforeDatasetsDraw(chart) {
        const { ctx, chartArea: a, scales: { x, y } } = chart;
        ctx.save();
        // dean of humanity
        ctx.strokeStyle = '#000';
        ctx.lineWidth = 1;
        ctx.setLineDash([9, 8]);
        const yd = Math.round(y.getPixelForValue(deanAge)) + 0.5;
        ctx.beginPath();
        ctx.moveTo(a.left, yd);
        ctx.lineTo(a.right, yd);
        ctx.stroke();
        ctx.setLineDash([]);

        // confidence intervals
        ctx.lineWidth = 2;
        years.forEach((yr, i) => {
            const px = Math.round(x.getPixelForValue(yr));
            const top = Math.round(y.getPixelForValue(ciHigh[i]));
            const bot = Math.round(y.getPixelForValue(ciLow[i]));
            ctx.beginPath();
            ctx.moveTo(px, top);
            ctx.lineTo(px, bot);
            ctx.moveTo(px - 9.5, top);
            ctx.lineTo(px + 9.5, top);
            ctx.moveTo(px - 9.5, bot);
            ctx.lineTo(px + 9.5, bot);
            ctx.stroke();
        });
        ctx.restore();
    },
    afterDraw(chart) {
        const { ctx, chartArea: a, scales: { x, y } } = chart;
        const midX = (a.left + a.right) / 2;
        ctx.save();
        ctx.fillStyle = '#000';
        ctx.strokeStyle = '#000';
        ctx.lineWidth = 1;

        // plot box
        ctx.strokeRect(a.left + 0.5, a.top + 0.5, a.right - a.left - 1, a.bottom - a.top - 1);

        // title
        ctx.textBaseline = 'middle';
        ctx.textAlign = 'left';
        const line2 = 'in French people aged 105 or more';
        const tSize = fitSize(ctx, line2, 'bold', BOLDSERIF, 514);
        const fB = 'bold ' + tSize + 'px ' + BOLDSERIF;
        const fN = tSize + 'px ' + BOLDSERIF;
        ctx.font = fN;
        const w1a = ctx.measureText('95%').width;
        ctx.font = fB;
        const w1b = ctx.measureText(' CIs for the 1/250th quantile').width;
        drawRuns(ctx, [['95%', fN], [' CIs for the 1/250th quantile', fB]], midX - (w1a + w1b) / 2, 21);
        ctx.textAlign = 'center';
        ctx.font = fB;
        ctx.fillText(line2, midX, 48);

        // y tick labels
        ctx.font = '21px ' + SERIF;
        ageTickLabels.forEach(v => {
            ctx.save();
            ctx.translate(63, y.getPixelForValue(v));
            ctx.rotate(-Math.PI / 2);
            ctx.fillText(String(v), 0, 0);
            ctx.restore();
        });

        // y axis title
        const yTitle = 'age of death (in years)';
        ctx.font = fitSize(ctx, yTitle, '', SERIF, 236) + 'px ' + SERIF;
        ctx.save();
        ctx.translate(27, 305);
        ctx.rotate(-Math.PI / 2);
        ctx.fillText(yTitle, 0, 0);
        ctx.restore();

        // x labels: year, n, xi-hat
        years.forEach((yr, i) => {
            const px = x.getPixelForValue(yr);
            ctx.textAlign = 'center';
            ctx.font = '22px ' + SERIF;
            ctx.fillText(String(yr), px, 550);

            // n = ...
            const small = '14px ' + SERIF;
            const smallIt = 'italic 14px ' + SERIF;
            ctx.textAlign = 'left';
            ctx.font = smallIt;
            const wn = ctx.measureText('n').width;
            ctx.font = small;
            const we = ctx.measureText('=').width;
            ctx.letterSpacing = '1.5px';
            const nStr = String(sampleSizes[i]);
            const wv = ctx.measureText(nStr).width;
            ctx.letterSpacing = '0px';
            let sx = px - (wn + 9 + we + 15 + wv) / 2;
            ctx.font = smallIt;
            ctx.fillText('n', sx, 581);
            ctx.font = small;
            ctx.fillText('=', sx + wn + 9, 581);
            ctx.letterSpacing = '1.5px';
            ctx.fillText(nStr, sx + wn + 9 + we + 15, 581);
            ctx.letterSpacing = '0px';

            // xi hat = ...
            const xStr = fmtXi(xiHat[i]);
            ctx.font = smallIt;
            const wx = ctx.measureText('\u03BE').width;
            ctx.font = small;
            ctx.letterSpacing = '2px';
            const wxv = ctx.measureText(xStr).width;
            ctx.letterSpacing = '0px';
            sx = px - (wx + 2 + we + 3 + wxv) / 2;
            ctx.font = smallIt;
            ctx.fillText('\u03BE', sx, 611);
            ctx.font = '12px ' + SERIF;
            ctx.textAlign = 'center';
            ctx.fillText('\u02C6', sx + wx / 2 + 1, 604);
            ctx.textAlign = 'left';
            ctx.font = small;
            ctx.fillText('=', sx + wx + 2, 611);
            ctx.letterSpacing = '2px';
            ctx.fillText(xStr, sx + wx + 2 + we + 3, 611);
            ctx.letterSpacing = '0px';
        });

        // x axis title
        ctx.textAlign = 'center';
        const xTitle = 'birth year';
        ctx.font = fitSize(ctx, xTitle, '', SERIF, 105) + 'px ' + SERIF;
        ctx.fillText(xTitle, midX, 652);

        // legend
        const lx = 788, ly = a.top, lw = a.right - lx, lh = 118;
        ctx.fillStyle = '#fff';
        ctx.fillRect(lx, ly, lw, lh);
        ctx.strokeStyle = '#000';
        ctx.lineWidth = 1;
        ctx.strokeRect(lx + 0.5, ly + 0.5, lw - 1, lh - 1);
        ctx.fillStyle = '#000';

        const sxm = 808, tx = 839;
        const rows = [ly + 22, ly + 41, ly + 62, ly + 82, ly + 102];

        // CI symbol
        ctx.lineWidth = 2;
        ctx.beginPath();
        ctx.moveTo(792, rows[0]); ctx.lineTo(824, rows[0]);
        ctx.moveTo(793, rows[0] - 6); ctx.lineTo(793, rows[0] + 6);
        ctx.moveTo(823, rows[0] - 6); ctx.lineTo(823, rows[0] + 6);
        ctx.stroke();
        // cross symbol
        ctx.lineWidth = 1;
        ctx.beginPath();
        ctx.moveTo(sxm - 3.5, rows[1] - 3.5); ctx.lineTo(sxm + 3.5, rows[1] + 3.5);
        ctx.moveTo(sxm + 3.5, rows[1] - 3.5); ctx.lineTo(sxm - 3.5, rows[1] + 3.5);
        ctx.stroke();
        // triangles
        ctx.lineWidth = 2;
        ctx.strokeStyle = RED;
        triangle(ctx, sxm, rows[2] + 1, 8.5, false);
        ctx.strokeStyle = BLUE;
        triangle(ctx, sxm, rows[3] - 1, 8.5, true);
        // dashes
        ctx.strokeStyle = '#000';
        ctx.lineWidth = 1;
        ctx.beginPath();
        ctx.moveTo(792, rows[4] + 0.5); ctx.lineTo(802, rows[4] + 0.5);
        ctx.moveTo(812, rows[4] + 0.5); ctx.lineTo(822, rows[4] + 0.5);
        ctx.stroke();

        const R = '18px ' + SERIF, I = 'italic 18px ' + SERIF;
        const Is = 'italic 13px ' + SERIF, Iss = 'italic 10px ' + SERIF;
        ctx.textAlign = 'left';
        ctx.font = R;
        ctx.fillText('95% confidence interval', tx, rows[0]);
        drawRuns(ctx, [['{', R], ['X', I], ['i', Is, 4], [', 1 \u2264 ', R], ['i', I], [' \u2264 ', R], ['n', I], ['}', R]], tx, rows[1]);
        drawRuns(ctx, [['X', I], ['n\u2212j', Is, 4], ['R', Iss, 7], [':n', Is, 4]], tx, rows[2]);
        drawRuns(ctx, [['X', I], ['n\u2212j', Is, 4], ['L', Iss, 7], [':n', Is, 4]], tx, rows[3]);
        ctx.font = R;
        ctx.fillText('dean of humanity (born 1875, France)', tx, rows[4]);

        ctx.restore();
    }
};

new Chart(document.getElementById('ciChart').getContext('2d'), {
    type: 'scatter',
    data: {
        datasets: [
            {
                label: 'points',
                data: scatterData,
                pointStyle: 'crossRot',
                pointRadius: 5,
                pointBorderColor: '#000',
                pointBackgroundColor: '#000',
                pointBorderWidth: 1.1
            },
            {
                label: 'upper',
                data: years.map((yr, i) => ({ x: yr, y: upperStat[i] })),
                pointStyle: 'triangle',
                pointRadius: 8.5,
                pointBorderColor: RED,
                pointBackgroundColor: 'rgba(0,0,0,0)',
                pointBorderWidth: 2
            },
            {
                label: 'lower',
                data: years.map((yr, i) => ({ x: yr, y: lowerStat[i] })),
                pointStyle: 'triangle',
                pointRotation: 180,
                pointRadius: 8.5,
                pointBorderColor: BLUE,
                pointBackgroundColor: 'rgba(0,0,0,0)',
                pointBorderWidth: 2
            }
        ]
    },
    options: {
        responsive: false,
        animation: false,
        devicePixelRatio: 1,
        events: [],
        layout: { autoPadding: false, padding: { top: 95, right: 5, left: 0, bottom: 0 } },
        plugins: {
            legend: { display: false },
            tooltip: { enabled: false },
            title: { display: false }
        },
        scales: {
            x: {
                type: 'linear',
                min: 1889.39,
                max: 1899.6,
                afterBuildTicks: s => { s.ticks = years.map(v => ({ value: v })); },
                afterFit: s => { s.height = 164; },
                ticks: { display: false },
                border: { display: false },
                grid: { drawOnChartArea: false, tickLength: 8, tickColor: '#000', color: '#000' }
            },
            y: {
                type: 'linear',
                min: 104.21,
                max: 125.68,
                afterBuildTicks: s => { s.ticks = gridAges.map(v => ({ value: v })); },
                afterFit: s => { s.width = 93; },
                ticks: { display: false },
                border: { display: false },
                grid: {
                    color: '#bebebe',
                    lineWidth: 1,
                    tickLength: 14,
                    tickColor: c => (c.tick && c.tick.value % 5 === 0) ? '#000' : 'rgba(0,0,0,0)'
                }
            }
        }
    },
    plugins: [decorPlugin]
});
</script>
</body>
</html>
